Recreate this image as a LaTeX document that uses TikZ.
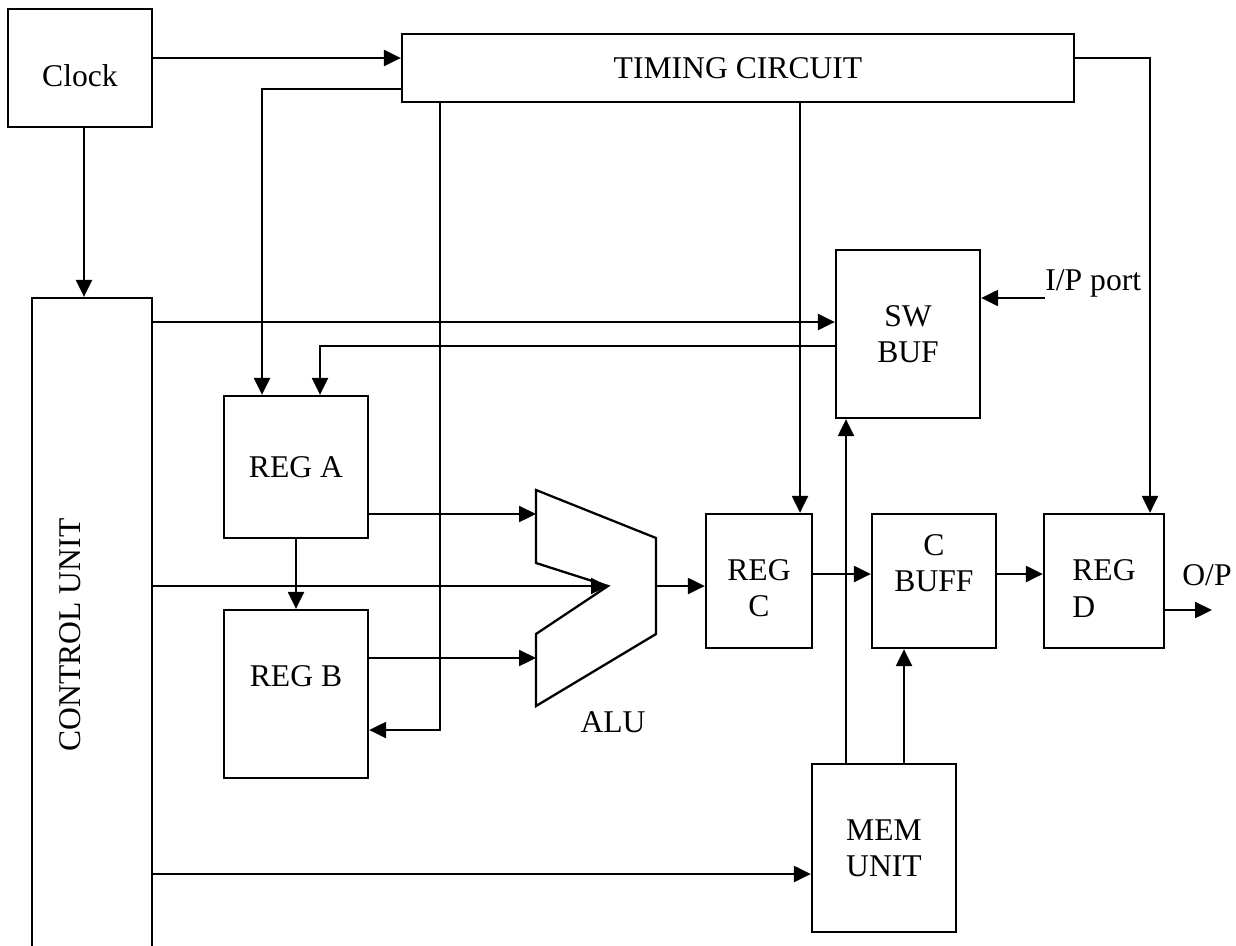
\documentclass[tikz,border=0pt]{standalone}
\usepackage{fontspec}
\setmainfont{Liberation Serif}
\usetikzlibrary{arrows.meta, calc}
\tikzset{
  blk/.style={
    draw, line width=1.3pt, inner sep=0pt, align=center
  },
  wire/.style={line width=1.3pt},
  sig/.style={wire, -{Triangle[length=3.4mm, width=3.2mm]}},
  lbl/.style={inner sep=0pt}
}

\begin{document}
\begin{tikzpicture}[font=\fontsize{18}{20.5}\selectfont]

  \useasboundingbox (0,0) rectangle (24.72,-18.90);
  \clip (0,0) rectangle (24.72,-18.90);

  % ---- Clock and timing ----------------------------------------------------
  \node[blk, minimum width=2.88cm, minimum height=2.36cm] (clock) at (1.60,-1.36) {\raisebox{-1.6mm}[\height][0pt]{Clock}};
  \node[blk, minimum width=13.44cm, minimum height=1.36cm] (timing) at (14.76,-1.36) {TIMING CIRCUIT};

  % ---- Control unit (runs off the bottom) ----------------------------------
  \node[blk, minimum width=2.40cm, minimum height=13.24cm] (cu) at (1.84,-12.58) {};
  \node[lbl, rotate=90] (cu-text) at (1.40,-12.70) {CONTROL UNIT};

  % ---- Registers -----------------------------------------------------------
  \node[blk, minimum width=2.88cm, minimum height=2.84cm] (rega) at (5.92,-9.34) {REG A};
  \node[blk, minimum width=2.88cm, minimum height=3.36cm] (regb) at (5.92,-13.88) {REG B\\\mbox{}};
  \node[blk, minimum width=2.12cm, minimum height=2.68cm] (regc) at (15.18,-11.62) {\mbox{}\\REG\\C};
  \node[blk, minimum width=2.48cm, minimum height=2.68cm] (cbuff) at (18.68,-11.62) {C\\BUFF\\\mbox{}};
  \node[blk, align=left, minimum width=2.40cm, minimum height=2.68cm] (regd) at (22.08,-11.62) {\mbox{}\\REG\\D};

  % ---- Switch buffer and memory --------------------------------------------
  \node[blk, minimum width=2.88cm, minimum height=3.36cm] (swbuf) at (18.16,-6.68) {SW\\BUF};
  \node[blk, minimum width=2.88cm, minimum height=3.36cm] (mem) at (17.68,-16.96) {MEM\\UNIT};

  % ---- ALU -----------------------------------------------------------------
  \draw[wire] (10.72,-9.80) -- (13.12,-10.76) -- (13.12,-12.68) -- (10.72,-14.12)
    -- (10.72,-12.68) -- (12.16,-11.72) -- (10.72,-11.26) -- cycle;
  \node[lbl] (alu) at (12.26,-14.44) {ALU};
  \coordinate (alu-a) at (10.72,-10.28);
  \coordinate (alu-b) at (10.72,-13.16);
  \coordinate (alu-c) at (12.16,-11.72);
  \coordinate (alu-out) at (13.12,-11.72);

  % ---- ports ---------------------------------------------------------------
  \coordinate (ip) at (20.90,-5.96);
  \node[lbl, anchor=south west] (ipport) at (ip) {I/P port};
  \coordinate (op) at (24.24,-12.20);
  \node[lbl] (optext) at (24.14,-11.50) {O/P};

  % ---- clock lines ---------------------------------------------------------
  \draw[sig] ([yshift=2mm]clock.east) -- ([yshift=2mm]timing.west);
  \coordinate (cu-top) at ([xshift=-1.6mm]cu.north);
  \draw[sig] (cu-top |- clock.south) -- (cu-top);

  % ---- timing lines --------------------------------------------------------
  \coordinate (rega-t1) at ([xshift=-6.8mm]rega.north);
  \draw[sig] ([yshift=-4.2mm]timing.west) -| (rega-t1);
  \coordinate (tb) at (8.80,-14.60);
  \draw[sig] (timing.south -| tb) -- (tb) -- (tb -| regb.east);
  \coordinate (regc-in) at ([xshift=8.2mm]regc.north);
  \draw[sig] (regc-in |- timing.south) -- (regc-in);
  \draw[sig] ([yshift=2mm]timing.east) -| ([xshift=9.2mm]regd.north);

  % ---- control lines -------------------------------------------------------
  \coordinate (sw-in) at ([yshift=2.4mm]swbuf.west);
  \draw[sig] (cu.east |- sw-in) -- (sw-in);
  \draw[sig] (cu.east |- alu-c) -- (alu-c);
  \coordinate (mem-in) at ([yshift=-5.2mm]mem.west);
  \draw[sig] (cu.east |- mem-in) -- (mem-in);

  % ---- data path -----------------------------------------------------------
  \draw[sig] ([yshift=-2.4mm]swbuf.west) -| ([xshift=4.8mm]rega.north);
  \draw[sig] (ip) -- (ip -| swbuf.east);
  \draw[sig] (rega.east |- alu-a) -- (alu-a);
  \draw[sig] (rega) -- (regb);
  \draw[sig] (regb.east |- alu-b) -- (alu-b);
  \draw[sig] (alu-out) -- (alu-out -| regc.west);
  \draw[sig] ([yshift=1.4mm]regc.east) -- ([yshift=1.4mm]cbuff.west);
  \draw[sig] ([yshift=1.4mm]cbuff.east) -- ([yshift=1.4mm]regd.west);
  \draw[sig] (op -| regd.east) -- (op);

  % ---- memory lines --------------------------------------------------------
  \coordinate (mem-sw) at ([xshift=-7.6mm]mem.north);
  \draw[sig] (mem-sw) -- (mem-sw |- swbuf.south);
  \coordinate (mem-cb) at ([xshift=4mm]mem.north);
  \draw[sig] (mem-cb) -- (mem-cb |- cbuff.south);

\end{tikzpicture}
\end{document}
